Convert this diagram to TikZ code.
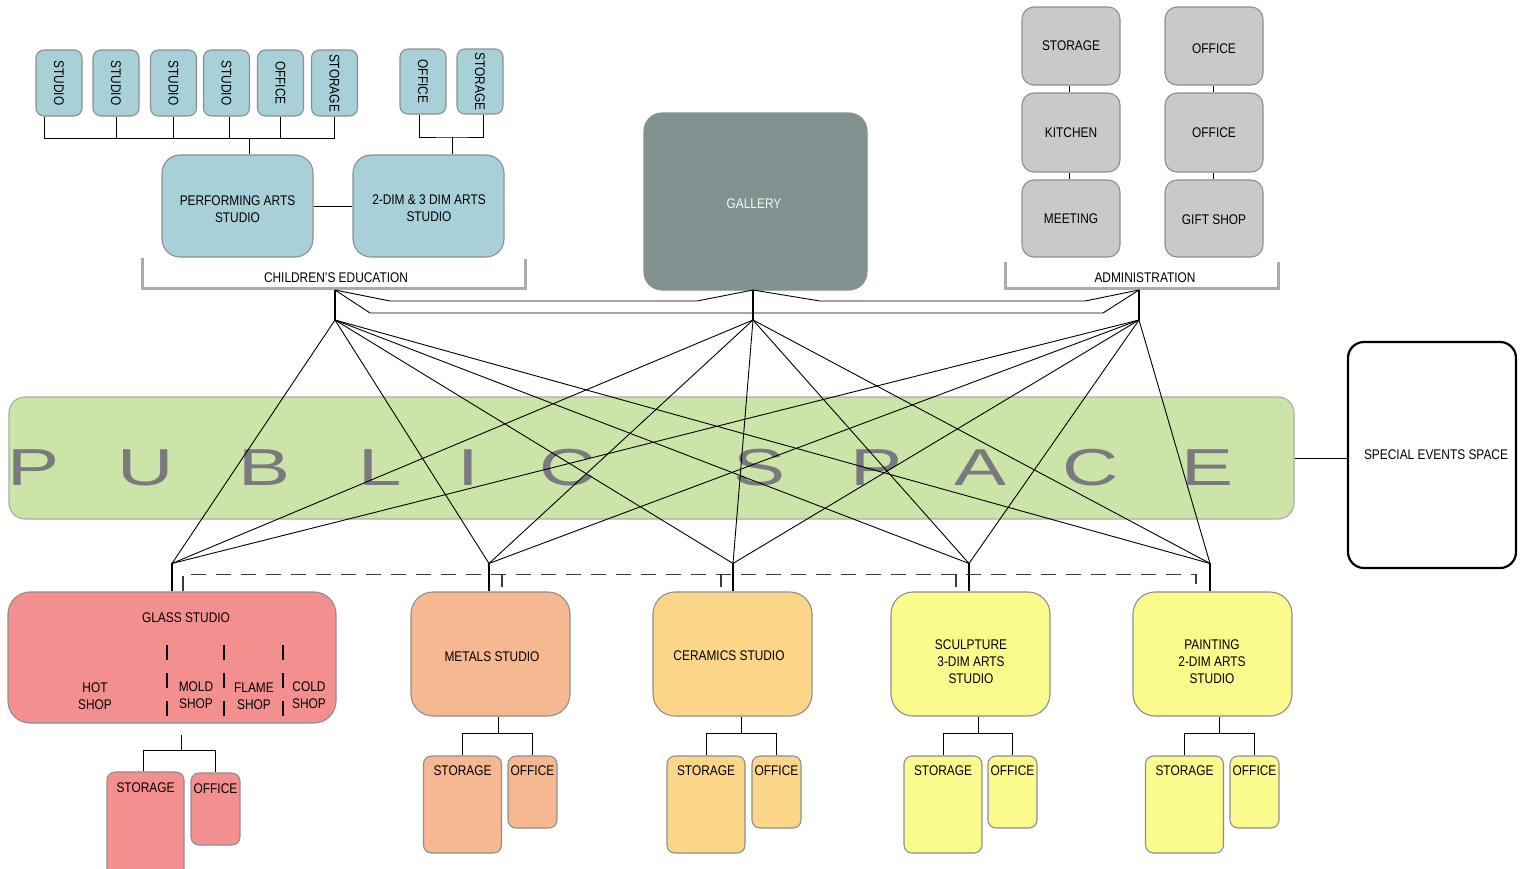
\documentclass[tikz,border=0pt]{standalone}
\usepackage{fontspec}
\setmainfont{Liberation Sans}[FakeStretch=0.85]
\newfontfamily\bigfont{Liberation Sans}[FakeStretch=1.5]
\usetikzlibrary{calc}
\definecolor{blueb}{HTML}{A8D0D8}
\definecolor{grayb}{HTML}{C9C9C9}
\definecolor{gall}{HTML}{819290}
\definecolor{bord}{HTML}{8E8E8E}
\definecolor{brkc}{HTML}{ABABAB}
\definecolor{pinkb}{HTML}{F48F8F}
\definecolor{orgb}{HTML}{F6B891}
\definecolor{ylwb}{HTML}{FCD688}
\definecolor{lemb}{HTML}{FBFA8C}
\definecolor{grnb}{HTML}{CCE4A7}
\definecolor{letc}{HTML}{7A797F}
\definecolor{dashc}{HTML}{3A3A3A}
\begin{document}
\begin{tikzpicture}[x=1pt,y=-1pt,
  font=\fontsize{14}{17}\selectfont,
  rbox/.style={draw=bord, line width=1.1pt, rounded corners=#1, inner sep=0pt, align=center},
  rbox/.default=10,
  thinln/.style={line width=0.9pt, black},
  hubln/.style={line width=2.6pt, black},
  brk/.style={draw=brkc, line width=3pt},
  dashln/.style={draw=dashc, line width=1.3pt, dash pattern=on 15pt off 10pt},
  txt/.style={inner sep=0pt, align=center},
  bigl/.style={inner sep=0pt, anchor=base, text=letc, font=\bigfont\fontsize{52}{52}\selectfont}
]
\useasboundingbox (0,0) rectangle (1523,868);
\clip (0,0) rectangle (1523,868);

% ---------- public space band ----------
\node[rbox=16, fill=grnb, draw=brkc, minimum width=1285pt, minimum height=122pt] (band) at (651.5,458) {};
\foreach \l/\x in {P/34,U/146,B/265,L/380,I/468,C/568,S/760,P/877,A/981,C/1091,E/1207}
  \node[bigl] (let\x) at (\x,485) {\l};

% ---------- special events ----------
\node[rbox=16, draw=black, line width=2.2pt, fill=white, minimum width=168pt, minimum height=226pt] (sev) at (1432,455) {};
\node[txt] (sevt) at (1436,455) {SPECIAL EVENTS SPACE};
\draw[thinln] (band.east) -- (band.east -| sev.west);

% ---------- top left small boxes ----------
\foreach \n/\x/\t in {b1/59/STUDIO,b2/116/STUDIO,b3/173.5/STUDIO,b4/226.5/STUDIO,b5/280.5/OFFICE,b6/334.5/STORAGE}
  \node[rbox=8, fill=blueb, minimum width=46pt, minimum height=66pt] (\n) at (\x,83) {\rotatebox{-90}{\t}};
\node[rbox=8, fill=blueb, minimum width=46pt, minimum height=65pt] (b7) at (423,81.5) {\rotatebox{-90}{OFFICE}};
\node[rbox=8, fill=blueb, minimum width=46pt, minimum height=65pt] (b8) at (480,81.5) {\rotatebox{-90}{STORAGE}};

\node[rbox=18, fill=blueb, minimum width=151pt, minimum height=102pt] (pa) at (237.5,206) {};
\node[txt] (pat) at (237.5,209) {PERFORMING ARTS\\STUDIO};
\node[rbox=18, fill=blueb, minimum width=151pt, minimum height=102pt] (dd) at (428.5,206) {};
\node[txt] (ddt) at (429,208) {2-DIM \& 3 DIM ARTS\\STUDIO};
\draw[thinln] (pa.east) -- (dd.west);

\coordinate (busA) at (249,138);
\draw[thinln] ([xshift=-15pt]b1.south) |- (busA -| b6.south) -- (b6.south);
\foreach \n in {b2,b3,b5} \draw[thinln] (\n.south) -- (\n.south |- busA);
\draw[thinln] ([xshift=2.5pt]b4.south) -- ([xshift=2.5pt]b4.south |- busA);
\draw[thinln] (busA) -- (busA |- pa.north);
\coordinate (busB) at (452,137);
\draw[thinln] ([xshift=-4pt]b7.south) |- (busB) -| ([xshift=3pt]b8.south);
\draw[thinln] (busB) -- (busB |- dd.north);

\draw[brk] (142,258) |- (525,288) -- (525,259);
\node[txt] (ce) at (336,278) {CHILDREN'S EDUCATION};

% ---------- gallery ----------
\node[rbox=18, fill=gall, draw=gall, minimum width=223pt, minimum height=177pt] (gal) at (755.5,201.5) {};
\node[txt, text=white!92!gall] (galt) at (754,204) {GALLERY};

% ---------- administration ----------
\node[rbox=12, fill=grayb, minimum width=98pt, minimum height=78pt] (aS) at (1071,46) {STORAGE};
\node[rbox=12, fill=grayb, minimum width=98pt, minimum height=79pt] (aK) at (1071,132.5) {KITCHEN};
\node[rbox=12, fill=grayb, minimum width=98pt, minimum height=77pt] (aM) at (1071,218.5) {MEETING};
\node[rbox=12, fill=grayb, minimum width=98pt, minimum height=78pt] (aO1) at (1214,46) {};
\node[txt] (aO1t) at (1214,49) {OFFICE};
\node[rbox=12, fill=grayb, minimum width=98pt, minimum height=79pt] (aO2) at (1214,132.5) {OFFICE};
\node[rbox=12, fill=grayb, minimum width=98pt, minimum height=77pt] (aG) at (1214,218.5) {};
\node[txt] (aGt) at (1214,220) {GIFT SHOP};
\draw[thinln] ([xshift=-2pt]aS.south) -- ([xshift=-2pt]aK.north);
\draw[thinln] ([xshift=-2pt]aK.south) -- ([xshift=-2pt]aM.north);
\draw[thinln] ([xshift=-1pt]aO1.south) -- ([xshift=-1pt]aO2.north);
\draw[thinln] ([xshift=-1pt]aO2.south) -- ([xshift=-1pt]aG.north);
\draw[brk] (1005,262) |- (1278,288) -- (1278,262);
\node[txt] (adm) at (1145,278) {ADMINISTRATION};

% ---------- bottom studios ----------
\node[rbox=22, fill=pinkb, minimum width=328pt, minimum height=131pt] (glass) at (172,657.5) {};
\node[rbox=22, fill=orgb, minimum width=159pt, minimum height=124pt] (met) at (490.5,654) {};
\node[rbox=22, fill=ylwb, minimum width=159pt, minimum height=124pt] (cer) at (732.5,654) {};
\node[rbox=22, fill=lemb, minimum width=159pt, minimum height=124pt] (scu) at (970.5,654) {};
\node[rbox=22, fill=lemb, minimum width=159pt, minimum height=124pt] (pai) at (1212.5,654) {};
\node[txt] (mett) at (492,657) {METALS STUDIO};
\node[txt] (cert) at (729,656) {CERAMICS STUDIO};
\node[txt] (scut) at (971,662) {SCULPTURE\\3-DIM ARTS\\STUDIO};
\node[txt] (pait) at (1212,662) {PAINTING\\2-DIM ARTS\\STUDIO};

\node[txt] (gl) at (186,618) {GLASS STUDIO};
\node[txt] (hot) at (95,696) {HOT\\SHOP};
\node[txt] (mold) at (196,695) {MOLD\\SHOP};
\node[txt] (flame) at (254,696) {FLAME\\SHOP};
\node[txt] (cold) at (309,695) {COLD\\SHOP};
\foreach \x in {167,224,283}
  \draw[line width=1.1pt, black, dash pattern=on 15pt off 13pt] (\x,645) -- (\x,717);

% ---------- hubs ----------
\coordinate (hAt) at (335,290); \coordinate (hAb) at (335,320);
\coordinate (hBt) at (753,290); \coordinate (hBb) at (753,320);
\coordinate (hCt) at (1139,290); \coordinate (hCb) at (1139,320);
\coordinate (gT) at ($(glass.north)+(0,-28)$);
\coordinate (mT) at ($(met.north)+(-1.5,-28)$);
\coordinate (cT) at ($(cer.north)+(0.5,-28)$);
\coordinate (sT) at ($(scu.north)+(-1.5,-28)$);
\coordinate (pT) at ($(pai.north)+(-2.5,-28)$);

\draw[thinln] (hAt) -- (390,301) -- (697,301) -- (hBt);
\draw[thinln] (hBt) -- (820,301) -- (1085,301) -- (hCt);
\draw[thinln] (hAt) -- (370,313) -- (1103,313) -- (hCt);

\foreach \t in {hAb,hBb,hCb}
  \foreach \b in {gT,mT,cT,sT,pT}
    \draw[thinln] (\t) -- (\b);

\draw[hubln] (hAt) -- (hAb);
\draw[hubln] (hBt) -- (hBb);
\draw[hubln] (hCt) -- (hCb);
\draw[hubln] (gT) -- (gT |- glass.north);
\draw[hubln] (mT) -- (mT |- met.north);
\draw[hubln] (cT) -- (cT |- cer.north);
\draw[hubln] (sT) -- (sT |- scu.north);
\draw[hubln] (pT) -- (pT |- pai.north);

% dashed service line
\coordinate (dL) at ($(glass.north)+(11,-17)$);
\coordinate (dR) at ($(pai.north)+(-16.5,-17)$);
\draw[dashln] (dL |- glass.north) -- (dL) -- (dR) -- (dR |- pai.north);
\draw[line width=1.2pt, dashc] ($(met.north)+(11.5,-17)$) -- ($(met.north)+(11.5,-4)$);
\draw[line width=1.2pt, dashc] ($(cer.north)+(-11.5,-17)$) -- ($(cer.north)+(-11.5,-4)$);
\draw[line width=1.2pt, dashc] ($(scu.north)+(-14.5,-17)$) -- ($(scu.north)+(-14.5,-4)$);

% ---------- studio annexes ----------
\node[rbox=8, fill=pinkb, minimum width=77pt, minimum height=110pt] (gS) at (145.5,827) {};
\node[rbox=8, fill=pinkb, minimum width=49pt, minimum height=72pt] (gO) at (215.5,809) {};
\node[txt, below=11pt] at (gS.north) {STORAGE};
\node[txt, below=11pt] at (gO.north) {OFFICE};
\coordinate (gc) at ($(glass.south)+(9,11)$);
\draw[thinln] (gc) -- ++(0,16) coordinate (gcm);
\draw[thinln] ([xshift=-2.5pt]gS.north) |- (gcm) -| (gO.north);

\foreach \st/\sx/\ox/\fc/\pp/\sh in {met/462.5/532.5/orgb/m/7.5, cer/706/776.5/ylwb/c/8.5, scu/943/1012.5/lemb/s/7.5, pai/1184.5/1254.5/lemb/p/6.5}{
  \node[rbox=8, fill=\fc, minimum width=78pt, minimum height=97pt] (\pp S) at (\sx,804.5) {};
  \node[rbox=8, fill=\fc, minimum width=49pt, minimum height=72pt] (\pp O) at (\ox,792) {};
  \node[txt, below=10.5pt] at (\pp S.north) {STORAGE};
  \node[txt, below=10.5pt] at (\pp O.north) {OFFICE};
  \draw[thinln] ([xshift=\sh pt]\st.south) -- ++(0,17) coordinate (\pp m);
  \draw[thinln] (\pp S.north) |- (\pp m) -| (\pp O.north);
}
\end{tikzpicture}
\end{document}
